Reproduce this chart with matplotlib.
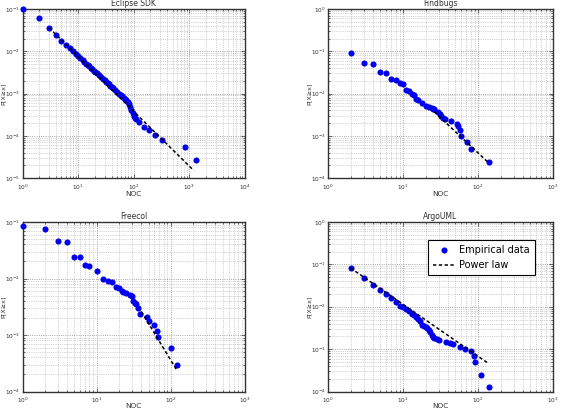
import numpy as np
import matplotlib.pyplot as plt
from matplotlib.ticker import LogLocator, NullFormatter

# ---------------- data ----------------
# Eclipse SDK
eclipse_x = [1, 2, 3, 4, 5, 6, 7, 8, 9, 10, 11, 12, 13, 14, 15, 16, 17, 18, 19, 20,
             22, 24, 26, 28, 30, 32, 34, 36, 38, 40, 43, 46, 50, 54, 58, 62, 66, 70,
             74, 78, 82, 86, 90, 96, 100, 105, 110, 126, 155, 185, 243, 327, 826, 1300]
eclipse_y = [0.1, 0.061, 0.036, 0.0248, 0.0179, 0.0143, 0.0118, 0.0101, 0.0088, 0.0077,
             0.0069, 0.0062, 0.0056, 0.0051, 0.0047, 0.0044, 0.0041, 0.0038, 0.0035, 0.0033,
             0.0030, 0.0027, 0.0024, 0.0022, 0.00205, 0.0019, 0.00176, 0.00164, 0.00153,
             0.00144, 0.00132, 0.00122, 0.0011, 0.001, 0.00092, 0.00085, 0.00079, 0.00073,
             0.00069, 0.00064, 0.00056, 0.00047, 0.0004, 0.00034, 0.0003, 0.00027, 0.00025,
             0.00021, 0.00016, 0.000135, 0.000107, 0.000081, 0.000054, 0.000027]
eclipse_fit_x = [3, 1200]
eclipse_fit_y = [0.036, 1.5e-5]

# Findbugs
findbugs_x = [2, 3, 4, 5, 6, 7, 8, 9, 10, 11, 12, 13, 14, 15, 16, 18, 20, 22, 24, 25, 26,
              29, 31, 32, 34, 36, 43, 52, 54, 57, 60, 72, 80, 140]
findbugs_y = [0.093, 0.054, 0.051, 0.033, 0.030, 0.0226, 0.0214, 0.0178, 0.0166, 0.012,
              0.0115, 0.0096, 0.009, 0.0075, 0.0072, 0.006, 0.0051, 0.0048, 0.0045, 0.0043,
              0.0042, 0.0036, 0.0032, 0.003, 0.0026, 0.0025, 0.0022, 0.0019, 0.0017, 0.0014,
              0.00096, 0.00071, 0.00049, 0.000234]
findbugs_fit_x = [26, 140]
findbugs_fit_y = [0.0037, 0.000225]

# Freecol
freecol_x = [1, 2, 3, 4, 5, 6, 7, 8, 10, 12, 14, 16, 18, 20, 22, 23, 25, 28, 30, 31, 33,
             34, 36, 38, 47, 50, 60, 66, 68, 100, 120]
freecol_y = [0.085, 0.076, 0.047, 0.044, 0.024, 0.024, 0.0174, 0.0166, 0.0134, 0.0099,
             0.0091, 0.0087, 0.0072, 0.0069, 0.006, 0.0058, 0.0055, 0.0051, 0.0049, 0.004,
             0.0037, 0.0035, 0.003, 0.0024, 0.0021, 0.0018, 0.0015, 0.0012, 0.00091,
             0.0006, 0.0003]
freecol_fit_x = [40, 120]
freecol_fit_y = [0.0026, 0.00024]

# ArgoUML
argo_x = [2, 3, 4, 5, 6, 7, 8, 9, 10, 11, 12, 13, 14, 15, 16, 17, 18, 19, 20, 21, 22, 23,
          24, 25, 26, 28, 30, 37, 42, 47, 57, 67, 80, 88, 90, 108, 141]
argo_y = [0.082, 0.048, 0.033, 0.025, 0.0195, 0.0158, 0.0127, 0.0107, 0.01, 0.0087,
          0.0078, 0.0068, 0.0063, 0.0057, 0.0052, 0.0047, 0.0038, 0.0035, 0.0034, 0.0031,
          0.0029, 0.0025, 0.0022, 0.0019, 0.0018, 0.0017, 0.0016, 0.0015, 0.0014, 0.0013,
          0.00114, 0.00102, 0.00088, 0.00067, 0.00051, 0.00025, 0.000126]
argo_fit_x = [2, 140]
argo_fit_y = [0.082, 0.00045]

panels = [
    ("Eclipse SDK", eclipse_x, eclipse_y, eclipse_fit_x, eclipse_fit_y, (1, 1e4), (1e-5, 1e-1)),
    ("Findbugs", findbugs_x, findbugs_y, findbugs_fit_x, findbugs_fit_y, (1, 1e3), (1e-4, 1)),
    ("Freecol", freecol_x, freecol_y, freecol_fit_x, freecol_fit_y, (1, 1e3), (1e-4, 1e-1)),
    ("ArgoUML", argo_x, argo_y, argo_fit_x, argo_fit_y, (1, 1e3), (1e-4, 1)),
]

# axes boxes in pixels (left, top, right, bottom) of a 561x413 figure,
# plus the x-label pad (bottom row sits closer to the figure edge)
W, H = 561, 413
boxes_px = [
    (22.5, 9, 245, 178, -0.5),
    (328, 9, 553, 178, -0.5),
    (22.5, 222, 245, 391.5, -1.5),
    (328, 222, 553, 391.5, -1.5),
]

fig = plt.figure(figsize=(5.61, 4.13), dpi=100)

for (title, x, y, fx, fy, xl, yl), (l, t, r, b, xpad) in zip(panels, boxes_px):
    ax = fig.add_axes([l / W, 1 - b / H, (r - l) / W, (b - t) / H])
    ax.set_xscale("log")
    ax.set_yscale("log")
    ax.plot(x, y, "o", color="#0000ee", markersize=4.4, markeredgewidth=0,
            clip_on=False, zorder=3, label="Empirical data")
    ax.plot(fx, fy, color="black", linestyle=(0, (2.2, 1.6)), linewidth=1.1,
            zorder=4, label="Power law")
    ax.set_xlim(*xl)
    ax.set_ylim(*yl)
    ax.xaxis.set_major_locator(LogLocator(base=10, numticks=10))
    ax.yaxis.set_major_locator(LogLocator(base=10, numticks=10))
    ax.xaxis.set_minor_locator(LogLocator(base=10, subs=np.arange(2, 10), numticks=20))
    ax.yaxis.set_minor_locator(LogLocator(base=10, subs=np.arange(2, 10), numticks=20))
    ax.xaxis.set_minor_formatter(NullFormatter())
    ax.yaxis.set_minor_formatter(NullFormatter())
    ax.grid(True, which="major", linestyle=":", color="#8a8a8a", linewidth=0.6)
    ax.grid(True, which="minor", linestyle=":", color="#aaaaaa", linewidth=0.5)
    ax.tick_params(which="both", direction="in", top=True, right=True,
                   labelsize=4.2, length=3, width=0.5, pad=1.5, colors="#333333")
    ax.tick_params(axis="x", which="major", pad=3.2)
    ax.tick_params(which="minor", length=1.5)
    for s in ax.spines.values():
        s.set_linewidth(1.0)
        s.set_color("#333333")
    ax.set_title(title, fontsize=5.5, pad=2, color="#333333")
    ax.set_xlabel("NOC", fontsize=5.3, labelpad=xpad, color="#333333")
    ax.set_ylabel("P[X≥x]", fontsize=4.6, color="#333333")
    # label centred about 19 px left of the axes spine
    ax.yaxis.label.set_va("center")
    ax.yaxis.set_label_coords(-19.2 / (r - l), 0.5)
    ax.set_axisbelow(True)

    if title == "ArgoUML":
        leg = ax.legend(loc="upper right", bbox_to_anchor=(0.94, 0.92), fontsize=7,
                        fancybox=False, framealpha=1, edgecolor="black",
                        handlelength=2.2, borderpad=0.5, labelspacing=0.5,
                        handletextpad=0.5)
        leg.get_frame().set_linewidth(0.8)

fig.savefig("out.png", dpi=100)
